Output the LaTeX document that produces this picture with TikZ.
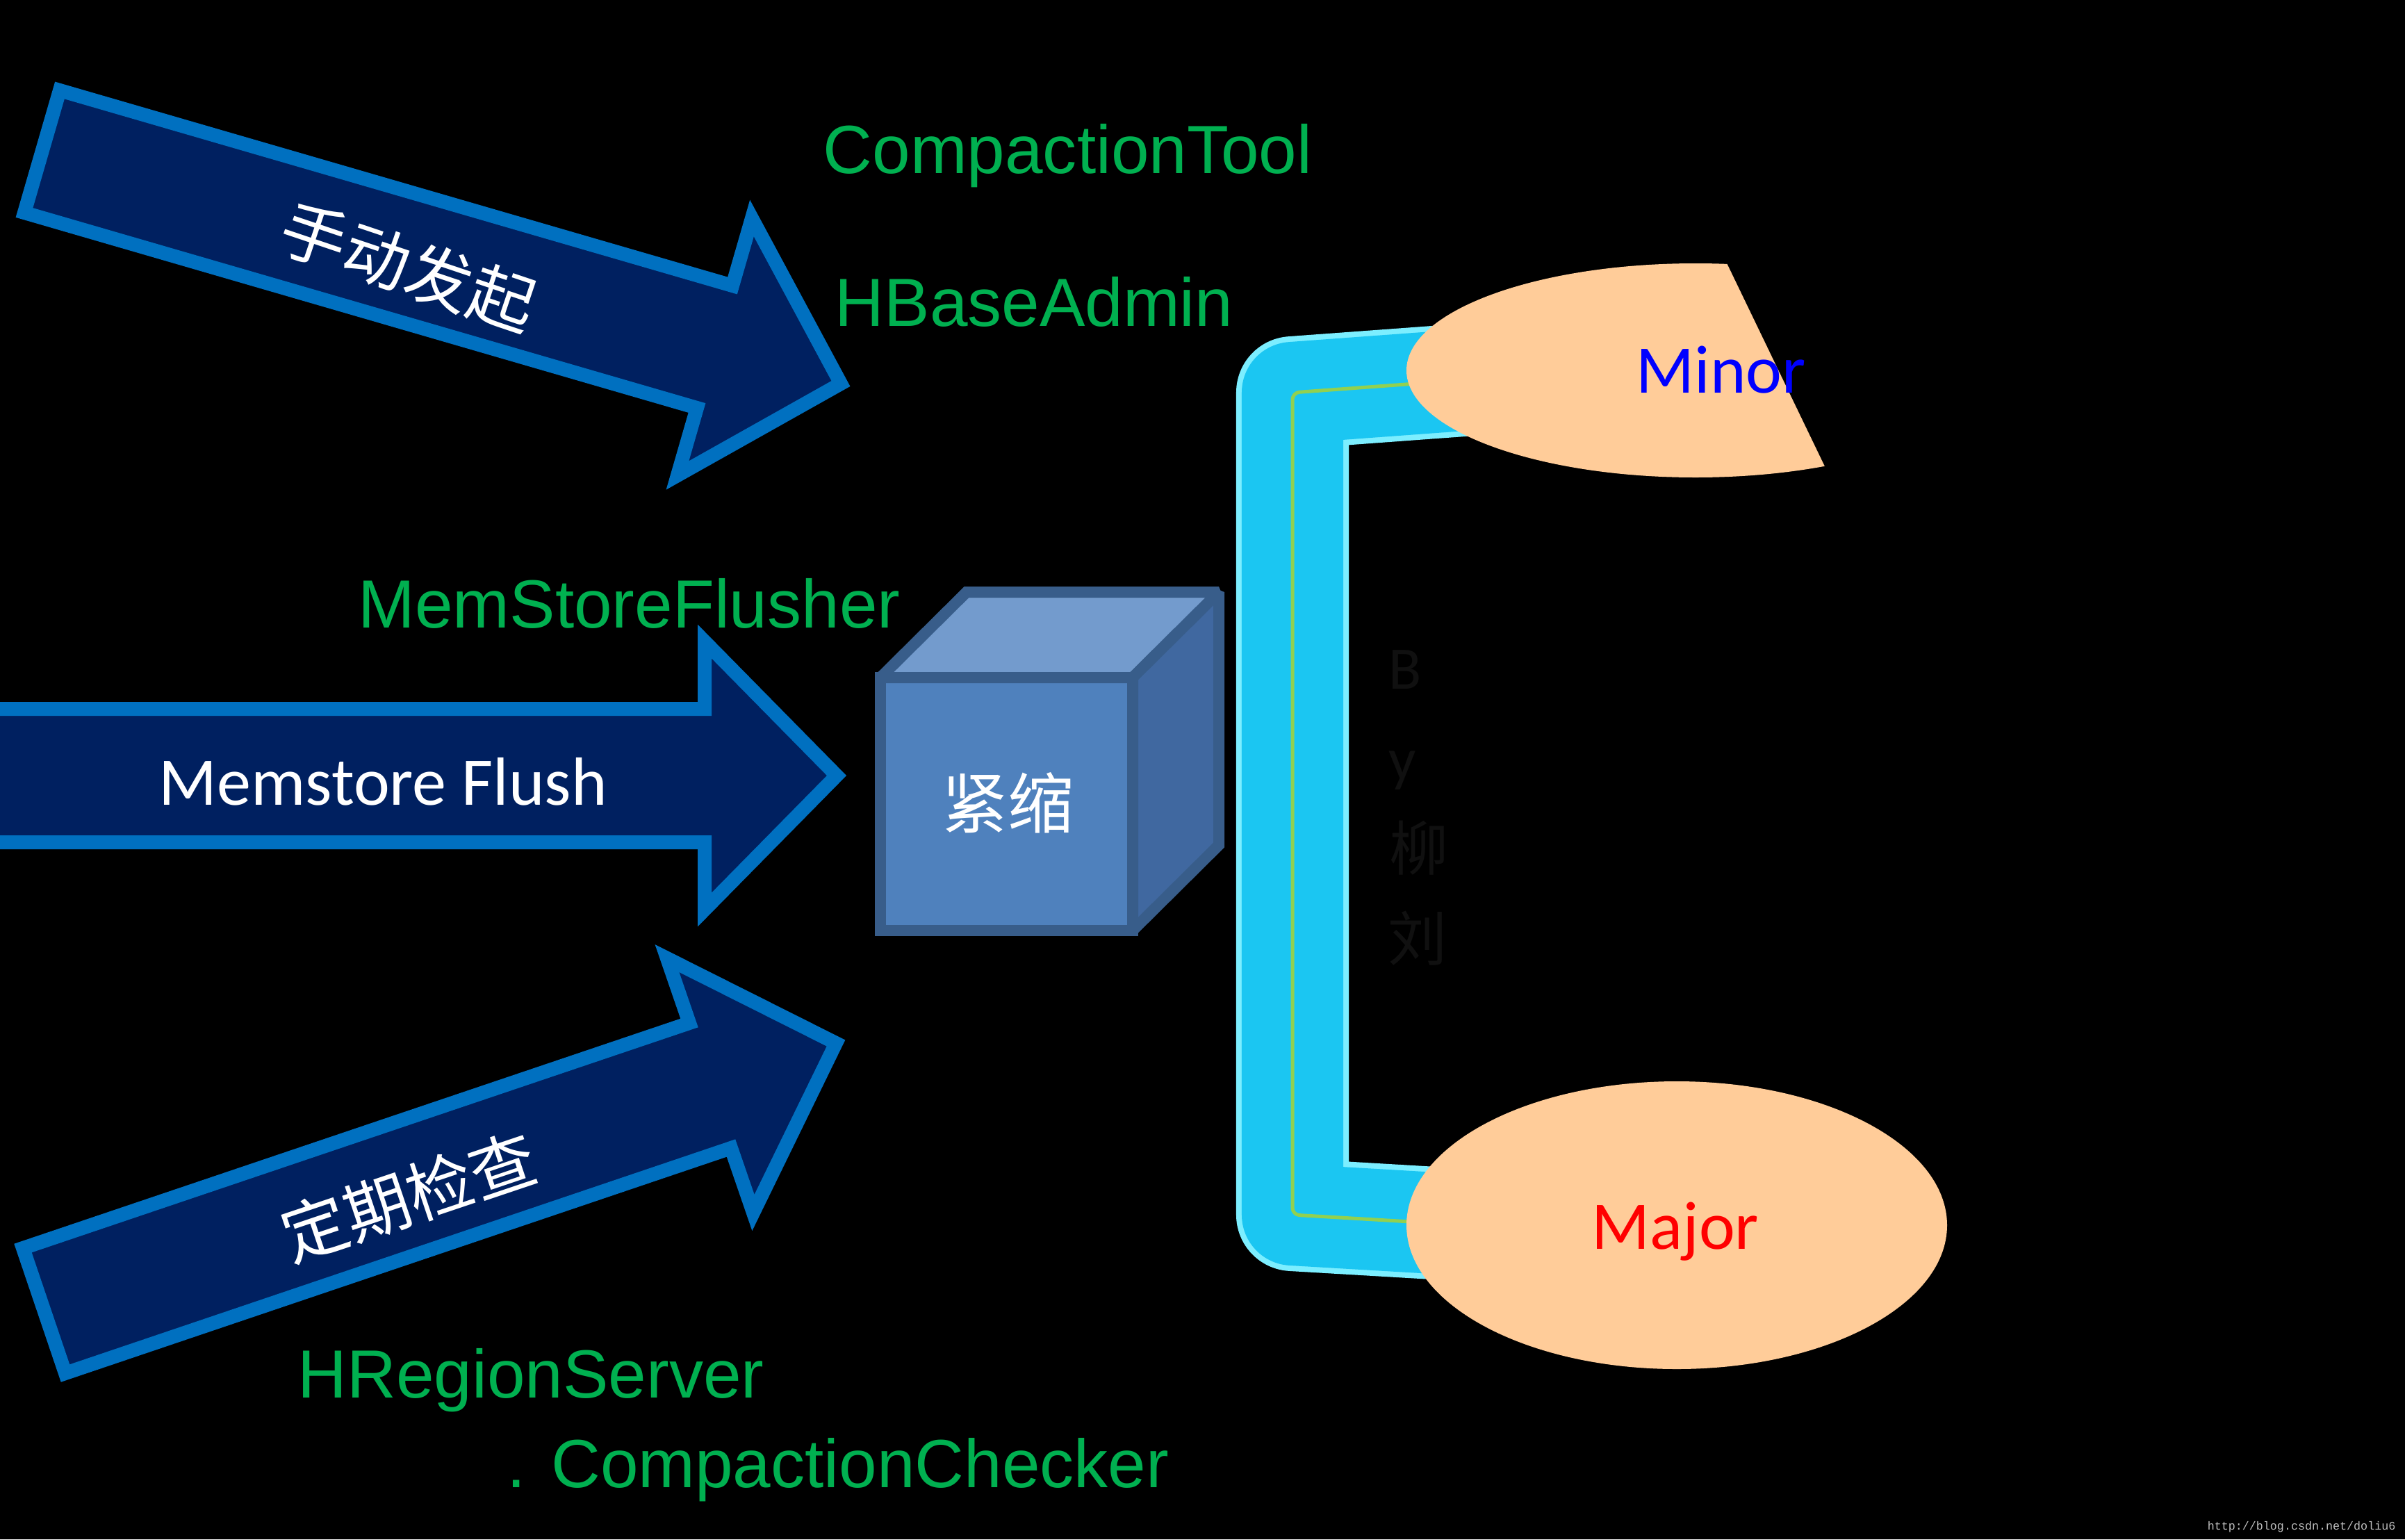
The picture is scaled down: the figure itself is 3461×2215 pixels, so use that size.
\documentclass[tikz,border=0pt]{standalone}
\usepackage{fontspec}
\setmainfont{Liberation Sans}
\newfontfamily\calibrifont{Carlito}
\newfontfamily\cjkfont{Noto Sans CJK SC}
\newfontfamily\wmfont{Liberation Mono}
\definecolor{arrowfill}{HTML}{002060}
\definecolor{arrowline}{HTML}{0070C0}
\definecolor{labelgreen}{HTML}{00B050}
\definecolor{cubefront}{HTML}{4F81BD}
\definecolor{cubetop}{HTML}{739BCD}
\definecolor{cubeside}{HTML}{4068A0}
\definecolor{cubeline}{HTML}{385D8A}
\definecolor{brkmain}{HTML}{1BC6F2}
\definecolor{brkglow}{HTML}{7CEEFF}
\definecolor{brkgreen}{HTML}{92D050}
\definecolor{peach}{HTML}{FFCC99}
\definecolor{ghost}{HTML}{101010}
\definecolor{wmgray}{HTML}{BEBEBE}
\begin{document}
\begin{tikzpicture}[x=0.01cm,y=-0.01cm,
  bigarrow/.style={fill=arrowfill,draw=arrowline,line width=0.2cm,line join=miter,miter limit=10},
  cubeface/.style={draw=cubeline,line width=0.16cm,line join=miter,miter limit=1.5},
  greenlabel/.style={text=labelgreen,font=\fontsize{27.9}{33}\selectfont,inner sep=0,anchor=base west},
  whitecjk/.style={text=white,font=\cjkfont\fontsize{27}{30}\selectfont,inner sep=0},
  calibrilabel/.style={font=\calibrifont\fontsize{27.9}{33}\selectfont,inner sep=0,anchor=base west},
  ghostlatin/.style={text=ghost,font=\calibrifont\fontsize{24.75}{28}\selectfont,inner sep=0,anchor=base west},
  ghostcjk/.style={text=ghost,font=\cjkfont\fontsize{24.2}{28}\selectfont,inner sep=0}
]
\useasboundingbox (0,0) rectangle (3461,2215);
\fill[black] (0,0) rectangle (3461,2215);

% top arrow (manual trigger)
\draw[bigarrow] (86,130) -- (1054,411) -- (1082,314) -- (1210,552) -- (975,684) -- (1003,587) -- (35,306) -- cycle;
% middle arrow (memstore flush)
\draw[bigarrow] (-40,1020) -- (1014,1020) -- (1014,923) -- (1204,1116) -- (1014,1309) -- (1014,1212) -- (-40,1212) -- cycle;
% bottom arrow (periodic check)
\draw[bigarrow] (33,1796) -- (992,1472) -- (960,1379) -- (1203,1501) -- (1084,1745) -- (1052,1652) -- (94,1976) -- cycle;

% cube
\coordinate (ftl) at (1267,975);
\coordinate (ftr) at (1630,975);
\coordinate (fbr) at (1630,1339);
\coordinate (fbl) at (1267,1339);
\coordinate (btl) at (1391,852);
\coordinate (btr) at (1754,852);
\coordinate (bbr) at (1754,1216);
\draw[cubeface,fill=cubefront] (ftl) -- (ftr) -- (fbr) -- (fbl) -- cycle;
\draw[cubeface,fill=cubetop] (ftl) -- (btl) -- (btr) -- (ftr) -- cycle;
\draw[cubeface,fill=cubeside] (ftr) -- (btr) -- (bbr) -- (fbr) -- cycle;
\node[whitecjk] (jinsuo) at (1450,1155) {紧缩};

% bracket
\draw[brkglow,line width=1.62cm,line join=round] (2200,540) -- (1860,565) -- (1860,1748) -- (2200,1768);
\draw[brkmain,line width=1.46cm,line join=round] (2200,540) -- (1860,565) -- (1860,1748) -- (2200,1768);
\draw[brkgreen,line width=0.05cm,rounded corners=0.1cm] (2200,540) -- (1860,565) -- (1860,1748) -- (2200,1768);

% ghost vertical text
\node[ghostlatin] (gb) at (1998,991) {B};
\node[ghostlatin] (gy) at (1998,1122) {y};
\node[ghostcjk] (gliu) at (2042,1220) {柳};
\node[ghostcjk] (gliu2) at (2040,1350) {刘};

% Minor ellipse (cut on the right)
\begin{scope}
\clip (1950,300) -- (2447,300) -- (2664,750) -- (1950,750) -- cycle;
\fill[peach] (2440,533) ellipse [x radius=416, y radius=154];
\end{scope}
% Major ellipse
\fill[peach] (2413,1763) ellipse [x radius=389, y radius=207];

\node[calibrilabel,text=blue] (minor) at (2354,565) {Minor};
\node[calibrilabel,text=red] (major) at (2290,1797) {Major};
\node[calibrilabel,text=white] (mflush) at (228,1158) {Memstore Flush};

% arrow texts
\node[whitecjk,rotate=-18.6] (manual) at (588,384) {手动发起};
\node[whitecjk,rotate=18.6] (periodic) at (588,1722) {定期检查};

% green labels
\node[greenlabel] (ctool) at (1184,249) {CompactionTool};
\node[greenlabel] (hadmin) at (1201,469) {HBaseAdmin};
\node[greenlabel] (msf) at (515,903) {MemStoreFlusher};
\node[greenlabel] (hrs) at (428,2011) {HRegionServer};
\node[greenlabel] (cchk) at (729,2140) {. CompactionChecker};

% watermark
\node[text=wmgray,font=\wmfont\fontsize{4.75}{6}\selectfont,inner sep=0,anchor=base west] (wm) at (3176,2201) {http://blog.csdn.net/doliu6};
\end{tikzpicture}
\end{document}
